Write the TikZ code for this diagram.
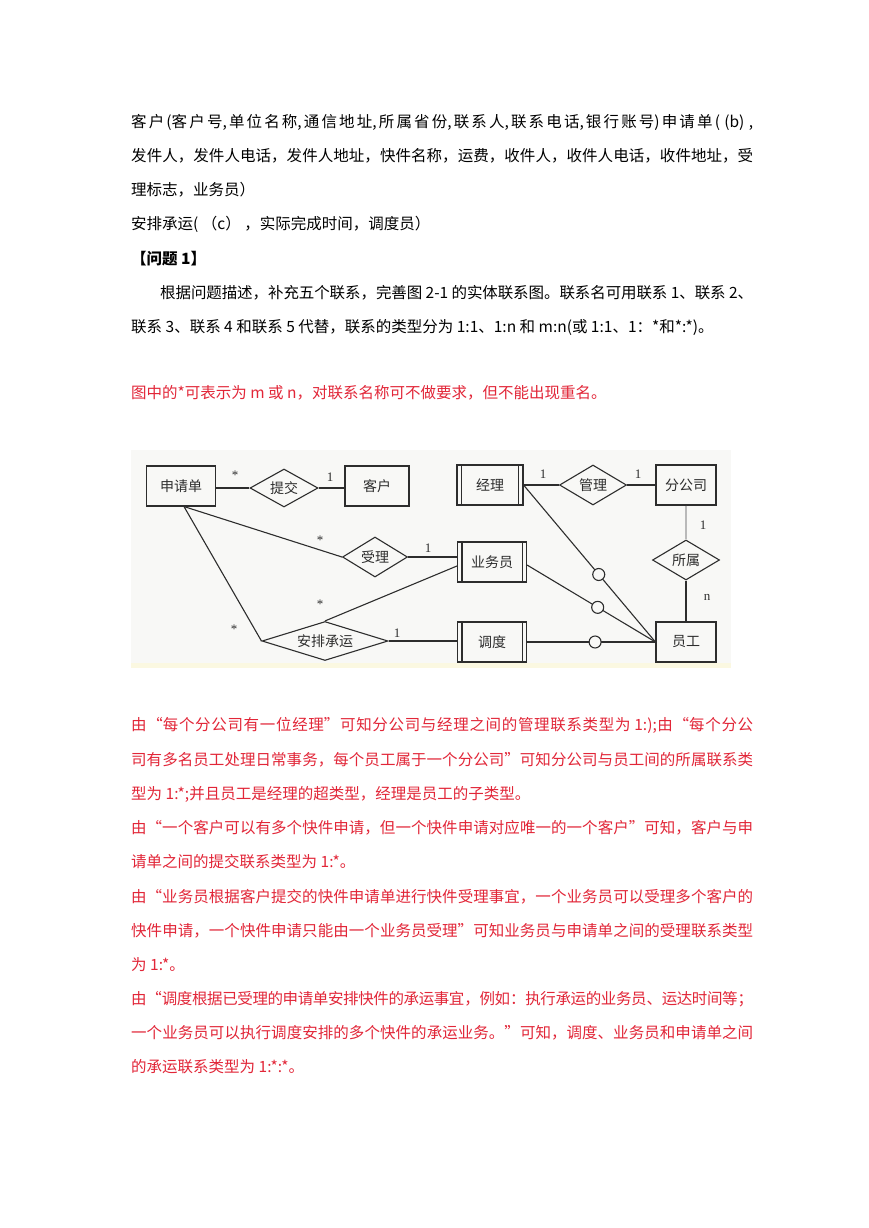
\documentclass[tikz,border=0pt]{standalone}
\usepackage{fontspec}
\setmainfont{Noto Sans CJK SC}
\newfontfamily\latf{Liberation Serif}
\usetikzlibrary{shapes.geometric,calc}
\XeTeXlinebreaklocale "zh"
\XeTeXlinebreakskip=0pt plus 4pt minus 1.2pt
\definecolor{redtxt}{RGB}{226,38,56}
\definecolor{lc}{RGB}{45,45,45}
\definecolor{diagbg}{RGB}{248,248,246}
\definecolor{ystrip}{RGB}{251,248,225}
\newcommand\justline[2]{\parbox{#1}{\parindent=0pt\parfillskip=0pt\tolerance=9999\linepenalty=5000\relax #2}}
\newcommand\fullline[1]{\justline{622pt}{#1}}
\begin{document}
\begin{tikzpicture}[x=1pt,y=-1pt,
  txt/.style={anchor=west, inner sep=0pt, font=\fontsize{15.5}{18}\selectfont},
  redline/.style={txt, text=redtxt},
  ent/.style={draw=lc, line width=1.1pt, rectangle, inner sep=0pt, minimum height=40pt, text=lc, font=\fontsize{14}{16}\selectfont},
  dblent/.style={ent, append after command={
      \pgfextra{\draw[lc, line width=1.1pt]
        ($(\tikzlastnode.north west)+(5,0)$) -- ($(\tikzlastnode.south west)+(5,0)$)
        ($(\tikzlastnode.north east)+(-5,0)$) -- ($(\tikzlastnode.south east)+(-5,0)$);}}},
  rel/.style={diamond, draw=lc, line width=1.1pt, inner sep=0pt, aspect=1.7, text=lc, font=\fontsize{14}{16}\selectfont},
  conn/.style={draw=lc, line width=1.1pt},
  lbl/.style={inner sep=0pt, text=lc, font=\latf\fontsize{13}{15}\selectfont},
  ring/.style={circle, draw=lc, line width=1.1pt, fill=diagbg, minimum size=12pt, inner sep=0pt}
]
\useasboundingbox[fill=white] (0,0) rectangle (869,1228);

% ---------- top text ----------
\node[txt] (t1) at (131,122) {\fullline{客户(客户号,单位名称,通信地址,所属省份,联系人,联系电话,银行账号)申请单( (b) ,}};
\node[txt] (t2) at (131,156) {\fullline{发件人，发件人电话，发件人地址，快件名称，运费，收件人，收件人电话，收件地址，受}};
\node[txt] (t3) at (131,190) {理标志，业务员）};
\node[txt] (t4) at (131,224) {安排承运( （c） ，实际完成时间，调度员）};
\node[txt, font=\fontsize{15.5}{18}\selectfont\bfseries] (t5) at (131,259) {【问题 1】};
\node[txt] (t6) at (160,293) {\justline{593pt}{根据问题描述，补充五个联系，完善图 2-1 的实体联系图。联系名可用联系 1、联系 2、}};
\node[txt] (t7) at (131,327) {联系 3、联系 4 和联系 5 代替，联系的类型分为 1:1、1:n 和 m:n(或 1:1、1：*和*:*)。};
\node[redline] (r0) at (131,393) {图中的*可表示为 m 或 n，对联系名称可不做要求，但不能出现重名。};

% ---------- diagram ----------
\fill[diagbg] (131,450) rectangle (731,668);
\fill[ystrip] (131,663) rectangle (731,668);

\node[ent, minimum width=69pt] (sqd) at (181,486) {申请单};
\node[rel, minimum width=68pt, minimum height=38pt] (tj) at (284,488) {提交};
\node[ent, minimum width=64pt] (kh) at (377,486) {客户};
\node[rel, minimum width=65pt, minimum height=40pt] (sl) at (375,557) {受理};
\node[rel, aspect=3.2, minimum width=126pt, minimum height=39pt] (apcy) at (325,641) {安排承运};

\node[dblent, minimum width=66pt] (jl) at (490,485) {经理};
\node[dblent, minimum width=69pt] (ywy) at (492,562) {业务员};
\node[dblent, minimum width=69pt] (dd) at (492,642) {调度};
\node[rel, minimum width=67pt, minimum height=40pt] (gl) at (593,485) {管理};
\node[ent, minimum width=60pt] (fgs) at (686,485) {分公司};
\node[rel, minimum width=67pt, minimum height=40pt] (ss) at (686,560) {所属};
\node[ent, minimum width=60pt] (yg) at (686,642) {员工};

\coordinate (sqdb) at ($(sqd.south)+(3,0)$);
\coordinate (ywyin) at ($(ywy.west)+(0,4)$);

\draw[conn] (sqd.east |- tj.west) -- (tj.west);
\draw[conn] (tj.east) -- (tj.east -| kh.west);
\draw[conn] (sqdb) -- (sl.west);
\draw[conn] (sqdb) -- (apcy.west);
\draw[conn] (sl.east) -- (sl.east -| ywy.west);
\draw[conn] (apcy.north) -- (ywyin);
\draw[conn] (apcy.east) -- (apcy.east -| dd.west);
\draw[conn] (jl.east) -- (gl.west);
\draw[conn] (gl.east) -- (fgs.west);
\draw[draw=gray!55, line width=1.1pt] (fgs.south) -- (ss.north);
\draw[conn] (ss.south) -- (yg.north);

\draw[conn] (jl.east) -- (yg.west) node[ring, pos=0.57] (c1) {};
\draw[conn] ($(ywy.east)+(0,3)$) -- (yg.west) node[ring, pos=0.55] (c2) {};
\draw[conn] (dd.east) -- (yg.west) node[ring, pos=0.53] (c3) {};

\node[lbl] (l1) at (235,475) {*};
\node[lbl] (l2) at (330,477) {1};
\node[lbl] (l3) at (320,540) {*};
\node[lbl] (l4) at (428,548) {1};
\node[lbl] (l5) at (320,604) {*};
\node[lbl] (l6) at (234,629) {*};
\node[lbl] (l7) at (397,633) {1};
\node[lbl] (l8) at (543,474) {1};
\node[lbl] (l9) at (638,474) {1};
\node[lbl] (l10) at (703,525) {1};
\node[lbl] (l11) at (707,597) {n};

% ---------- red explanation ----------
\node[redline] (r1) at (131,725) {\fullline{由“每个分公司有一位经理”可知分公司与经理之间的管理联系类型为 1:);由“每个分公}};
\node[redline] (r2) at (131,760) {\fullline{司有多名员工处理日常事务，每个员工属于一个分公司”可知分公司与员工间的所属联系类}};
\node[redline] (r3) at (131,794) {型为 1:*;并且员工是经理的超类型，经理是员工的子类型。};
\node[redline] (r4) at (131,828) {\fullline{由“一个客户可以有多个快件申请，但一个快件申请对应唯一的一个客户”可知，客户与申}};
\node[redline] (r5) at (131,862) {请单之间的提交联系类型为 1:*。};
\node[redline] (r6) at (131,897) {\fullline{由“业务员根据客户提交的快件申请单进行快件受理事宜，一个业务员可以受理多个客户的}};
\node[redline] (r7) at (131,931) {\fullline{快件申请，一个快件申请只能由一个业务员受理”可知业务员与申请单之间的受理联系类型}};
\node[redline] (r8) at (131,965) {为 1:*。};
\node[redline] (r9) at (131,999) {\fullline{由“调度根据已受理的申请单安排快件的承运事宜，例如：执行承运的业务员、运达时间等；}};
\node[redline] (r10) at (131,1033) {\fullline{一个业务员可以执行调度安排的多个快件的承运业务。”可知，调度、业务员和申请单之间}};
\node[redline] (r11) at (131,1067) {的承运联系类型为 1:*:*。};
\end{tikzpicture}
\end{document}
